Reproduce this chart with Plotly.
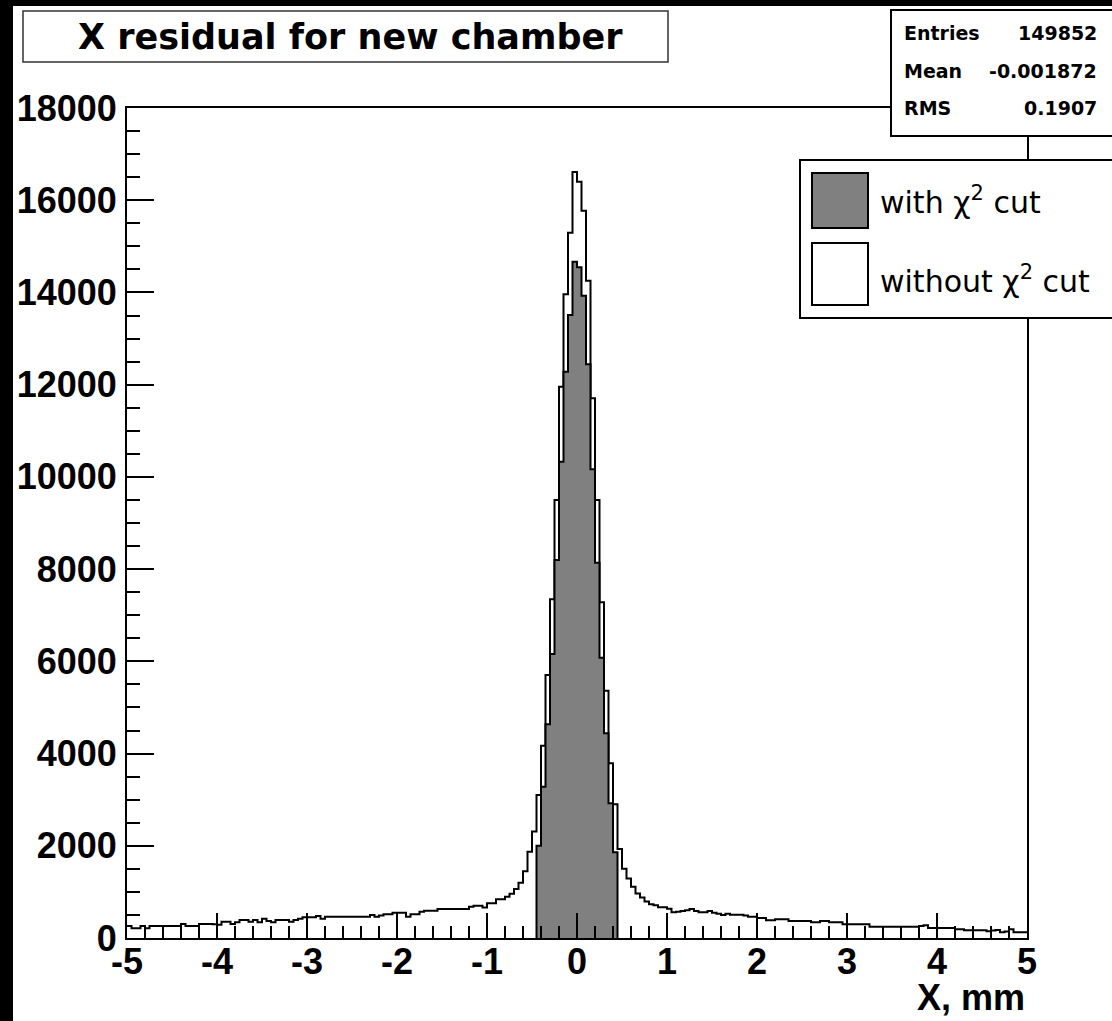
import numpy as np
import plotly.graph_objects as go

# ---------------- data ----------------
x_min, x_max = -5.0, 5.0
bin_width = 0.05

# "without chi2 cut" histogram, 200 bins from -5 to 5
counts_all = [
    # -5.00 .. -4.00
    260, 210, 210, 260, 210, 260, 260, 260, 260, 260,
    260, 260, 304, 260, 260, 260, 304, 304, 304, 300,
    # -4.00 .. -3.00
    290, 354, 354, 304, 340, 390, 390, 354, 390, 340,
    419, 370, 340, 390, 390, 390, 354, 390, 419, 448,
    # -3.00 .. -2.00
    448, 448, 477, 419, 463, 463, 463, 463, 463, 463,
    463, 463, 463, 463, 499, 463, 490, 513, 513, 549,
    # -2.00 .. -1.00
    549, 549, 463, 513, 513, 571, 592, 592, 592, 629,
    629, 629, 629, 629, 629, 629, 679, 700, 700, 660,
    # -1.00 .. 0.00
    752, 752, 839, 839, 896, 960, 1060, 1200, 1450, 1872,
    2310, 3101, 4171, 5704, 7345, 9500, 11956, 13960, 15296, 16612,
    # 0.00 .. 1.00
    16402, 15773, 14255, 11704, 9499, 7280, 5364, 3788, 2899, 1930,
    1500, 1290, 1113, 965, 880, 790, 730, 709, 665, 665,
    # 1.00 .. 2.00
    636, 557, 570, 586, 600, 629, 586, 557, 557, 586,
    550, 528, 499, 528, 506, 506, 506, 490, 463, 463,
    # 2.00 .. 3.00
    434, 434, 383, 383, 405, 405, 405, 369, 369, 369,
    369, 369, 340, 340, 369, 369, 340, 340, 340, 296,
    # 3.00 .. 4.00
    296, 296, 296, 296, 296, 246, 246, 246, 246, 246,
    246, 246, 246, 246, 246, 246, 260, 275, 217, 217,
    # 4.00 .. 5.00
    217, 217, 217, 217, 188, 188, 166, 166, 166, 166,
    166, 145, 160, 174, 123, 140, 188, 123, 123, 123,
]
assert len(counts_all) == 200

# "with chi2 cut" histogram: 18 bins from -0.45 to 0.45
cut_first_bin = 91
counts_cut = [2002, 3282, 4634, 6159, 8198, 10330, 12282, 13511, 14668,
              14545, 13930, 12441, 10164, 8140, 6079, 4439, 2921, 1858]

x_tick_vals = [-5, -4, -3, -2, -1, 0, 1, 2, 3, 4, 5]
y_tick_vals = [0, 2000, 4000, 6000, 8000, 10000, 12000, 14000, 16000, 18000]

title_text = "X residual for new chamber"
x_title = "X, mm"
legend_labels = ["with χ<sup>2</sup> cut", "without χ<sup>2</sup> cut"]
stats_names = ["Entries", "Mean", "RMS"]
stats_values = ["149852", "-0.001872", "0.1907"]

# ---------------- geometry helpers ----------------
W, H = 1112, 1021
L, R, T, B = 127, 1027, 108, 938  # plot area in pixels


def px(xp):
    return (xp - L) / (R - L)


def py(yp):
    return (B - yp) / (B - T)


edges = x_min + bin_width * np.arange(len(counts_all) + 1)

fig = go.Figure()

# outline histogram
fig.add_trace(go.Scatter(
    x=edges, y=list(counts_all) + [counts_all[-1]],
    mode="lines", line=dict(shape="hv", color="black", width=2),
    hoverinfo="skip", showlegend=False,
))

# filled histogram
cut_edges = edges[cut_first_bin:cut_first_bin + len(counts_cut) + 1]
fig.add_trace(go.Scatter(
    x=[cut_edges[0]] + list(cut_edges),
    y=[0] + list(counts_cut) + [0],
    mode="lines", line=dict(shape="hv", color="black", width=2),
    fill="tozeroy", fillcolor="#808080",
    hoverinfo="skip", showlegend=False,
))

tickfont = dict(family="Liberation Sans", size=36, color="black", weight="bold")

fig.update_xaxes(
    range=[x_min, x_max], tickvals=x_tick_vals, ticktext=[str(v) for v in x_tick_vals],
    ticks="inside", ticklen=25, tickwidth=2, tickcolor="black",
    minor=dict(dtick=0.2, ticks="inside", ticklen=12, tickwidth=2, tickcolor="black"),
    showline=True, linewidth=2, linecolor="black", mirror=True,
    showgrid=False, zeroline=False, tickfont=tickfont, layer="above traces",
    ticklabelstandoff=-9,
)
fig.update_yaxes(
    range=[0, 18000], tickvals=y_tick_vals, ticktext=[str(v) for v in y_tick_vals],
    ticks="inside", ticklen=27, tickwidth=2, tickcolor="black",
    minor=dict(dtick=500, ticks="inside", ticklen=13, tickwidth=2, tickcolor="black"),
    showline=True, linewidth=2, linecolor="black", mirror=True,
    showgrid=False, zeroline=False, tickfont=tickfont, layer="above traces",
    ticklabelstandoff=1,
)

shapes = []
# black border stripes (left and top)
shapes.append(dict(type="rect", xref="paper", yref="paper", x0=px(0), x1=px(13), y0=py(0), y1=py(H + 50),
                   fillcolor="black", line=dict(width=0), layer="above"))
shapes.append(dict(type="rect", xref="paper", yref="paper", x0=px(0), x1=px(W + 20), y0=py(0), y1=py(6),
                   fillcolor="black", line=dict(width=0), layer="above"))
# title box
shapes.append(dict(type="rect", xref="paper", yref="paper", x0=px(23), x1=px(668), y0=py(62), y1=py(11),
                   fillcolor="white", line=dict(color="#333333", width=1.5), layer="above"))
# stats box
shapes.append(dict(type="rect", xref="paper", yref="paper", x0=px(891), x1=px(W + 20), y0=py(136), y1=py(10),
                   fillcolor="white", line=dict(color="black", width=2), layer="above"))
# legend box
shapes.append(dict(type="rect", xref="paper", yref="paper", x0=px(800), x1=px(W + 20), y0=py(318), y1=py(160),
                   fillcolor="white", line=dict(color="black", width=2), layer="above"))
# legend swatches
shapes.append(dict(type="rect", xref="paper", yref="paper", x0=px(812), x1=px(868), y0=py(228), y1=py(173),
                   fillcolor="#808080", line=dict(color="black", width=2), layer="above"))
shapes.append(dict(type="rect", xref="paper", yref="paper", x0=px(812), x1=px(868), y0=py(305), y1=py(243),
                   fillcolor="white", line=dict(color="black", width=2), layer="above"))

annotations = []
annotations.append(dict(text=title_text, xref="paper", yref="paper", x=px(350), y=py(37),
                        xanchor="center", yanchor="middle", showarrow=False,
                        font=dict(family="DejaVu Sans", size=35, color="black", weight="bold")))
annotations.append(dict(text=x_title, xref="paper", yref="paper", x=px(1027), y=py(997),
                        xanchor="right", yanchor="middle", showarrow=False,
                        font=dict(family="Liberation Sans", size=36, color="black", weight="bold")))
stat_rows_y = [33, 71, 108]
for name, val, yy in zip(stats_names, stats_values, stat_rows_y):
    annotations.append(dict(text=name, xref="paper", yref="paper", x=px(902), y=py(yy),
                            xanchor="left", yanchor="middle", showarrow=False,
                            font=dict(family="DejaVu Sans", size=19, color="black", weight="bold")))
    annotations.append(dict(text=val, xref="paper", yref="paper", x=px(1099), y=py(yy),
                            xanchor="right", yanchor="middle", showarrow=False,
                            font=dict(family="DejaVu Sans", size=19, color="black", weight="bold")))
for lab, yy in zip(legend_labels, [200, 279]):
    annotations.append(dict(text=lab, xref="paper", yref="paper", x=px(878), y=py(yy),
                            xanchor="left", yanchor="middle", showarrow=False,
                            font=dict(family="DejaVu Sans", size=30, color="black")))

fig.update_layout(
    width=W, height=H, autosize=False,
    margin=dict(l=L, r=W - R, t=T, b=H - B, pad=0),
    paper_bgcolor="white", plot_bgcolor="white",
    shapes=shapes, annotations=annotations, showlegend=False,
)

fig.write_html("out.html")
